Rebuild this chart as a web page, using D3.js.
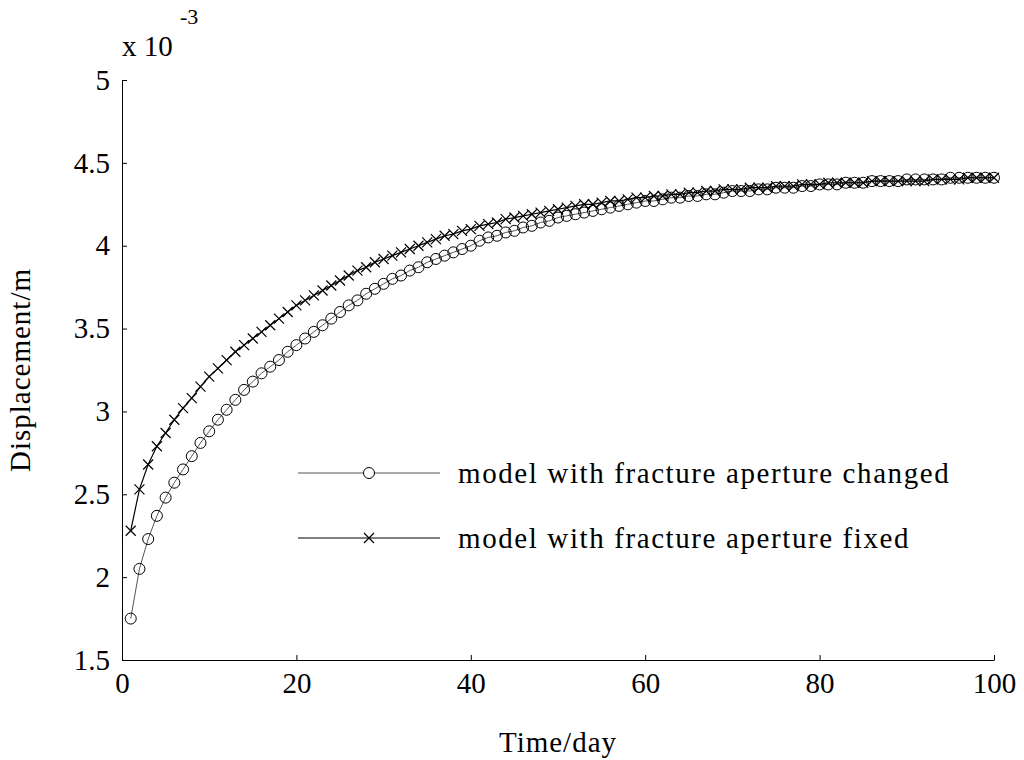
<!DOCTYPE html>
<meta charset="utf-8">
<style>
body { margin: 0; background: #fff; }
text { font-family: "Liberation Serif", "Times New Roman", serif; fill: #000; }
</style>
<body>
<script src="https://d3js.org/d3.v7.min.js"></script>
<script>

var width = 1024, height = 760;
var margin = {left: 122, right: 30, top: 80, bottom: 100};

var days = d3.range(1, 101);

var changed = [1.75,2.05,2.23,2.37,2.48,2.57,2.65,2.73,2.81,2.88,
  2.95,3.01,3.07,3.13,3.18,3.23,3.27,3.31,3.36,3.40,
  3.44,3.48,3.52,3.56,3.60,3.64,3.67,3.71,3.74,3.77,
  3.80,3.82,3.85,3.87,3.90,3.92,3.94,3.96,3.98,4.00,
  4.03,4.05,4.06,4.08,4.09,4.11,4.12,4.14,4.15,4.17,
  4.18,4.19,4.20,4.21,4.22,4.23,4.24,4.25,4.26,4.27,
  4.27,4.28,4.29,4.29,4.30,4.30,4.31,4.31,4.32,4.33,
  4.33,4.33,4.34,4.34,4.35,4.35,4.35,4.36,4.36,4.37,
  4.37,4.37,4.38,4.38,4.38,4.39,4.39,4.39,4.39,4.40,
  4.40,4.40,4.40,4.40,4.41,4.41,4.41,4.41,4.41,4.41];

var fixed = [2.28,2.53,2.68,2.79,2.87,2.95,3.02,3.08,3.15,3.21,
  3.26,3.31,3.36,3.40,3.44,3.48,3.52,3.56,3.60,3.64,
  3.67,3.70,3.73,3.76,3.79,3.82,3.85,3.87,3.90,3.92,
  3.94,3.96,3.98,4.00,4.02,4.04,4.06,4.07,4.09,4.10,
  4.12,4.13,4.14,4.16,4.17,4.18,4.19,4.20,4.21,4.22,
  4.23,4.24,4.25,4.25,4.26,4.27,4.27,4.28,4.29,4.29,
  4.30,4.30,4.31,4.31,4.32,4.32,4.33,4.33,4.34,4.34,
  4.34,4.35,4.35,4.35,4.36,4.36,4.36,4.37,4.37,4.37,
  4.38,4.38,4.38,4.38,4.38,4.39,4.39,4.39,4.39,4.39,
  4.39,4.39,4.40,4.40,4.40,4.40,4.41,4.41,4.41,4.41];

var xTicks = [0, 20, 40, 60, 80, 100];
var yTicks = [1.5, 2, 2.5, 3, 3.5, 4, 4.5, 5];
var legendLabels = ["model with fracture aperture changed", "model with fracture aperture fixed"];

var svg = d3.select("body").append("svg")
    .attr("width", width)
    .attr("height", height);

var x = d3.scaleLinear().domain([0, 100]).range([margin.left, width - margin.right]);
var y = d3.scaleLinear().domain([1.5, 5]).range([height - margin.bottom, margin.top]);

var fs = "29px";

svg.append("g")
    .attr("transform", "translate(0," + y(1.5) + ")")
    .call(d3.axisBottom(x).tickValues(xTicks).tickSizeInner(-5).tickSizeOuter(0).tickPadding(12))
    .call(g => g.selectAll("text").style("font-size", fs));

svg.append("g")
    .attr("transform", "translate(" + x(0) + ",0)")
    .call(d3.axisLeft(y).tickValues(yTicks).tickFormat(d3.format("")).tickSizeInner(-5).tickSizeOuter(0).tickPadding(12))
    .call(g => g.selectAll("text").style("font-size", fs));

svg.selectAll(".domain, .tick line").attr("stroke", "#000");

svg.append("text").attr("x", 122).attr("y", 56).style("font-size", fs).text("x 10");
svg.append("text").attr("x", 180).attr("y", 24).style("font-size", "22px").text("-3");

svg.append("text").attr("x", x(50)).attr("y", 752).attr("text-anchor", "middle")
    .style("font-size", fs).style("letter-spacing", "1px").text("Time/day");
svg.append("text").attr("transform", "translate(30," + y(3.25) + ") rotate(-90)")
    .attr("text-anchor", "middle").style("font-size", fs).style("letter-spacing", "1px").text("Displacement/m");

var line = d3.line().x((d, i) => x(days[i])).y(d => y(d));

svg.append("path").datum(changed).attr("d", line)
    .attr("fill", "none").attr("stroke", "#555").attr("stroke-width", 1);
svg.append("path").datum(fixed).attr("d", line)
    .attr("fill", "none").attr("stroke", "#000").attr("stroke-width", 1.2);

svg.selectAll(".c").data(changed).enter().append("circle")
    .attr("cx", (d, i) => x(days[i])).attr("cy", d => y(d)).attr("r", 5.5)
    .attr("fill", "none").attr("stroke", "#000").attr("stroke-width", 1);

function cross(g, cx, cy, s) {
  g.append("path")
    .attr("d", "M" + (cx - s) + "," + (cy - s) + "L" + (cx + s) + "," + (cy + s) +
               "M" + (cx - s) + "," + (cy + s) + "L" + (cx + s) + "," + (cy - s))
    .attr("stroke", "#000").attr("stroke-width", 1.2);
}
var cg = svg.append("g");
fixed.forEach((d, i) => cross(cg, x(days[i]), y(d), 5));

// legend
var lg = svg.append("g");
lg.append("line").attr("x1", 298).attr("x2", 440).attr("y1", 473).attr("y2", 473).attr("stroke", "#555");
lg.append("circle").attr("cx", 369).attr("cy", 473).attr("r", 5.5).attr("fill", "#fff").attr("stroke", "#000");
lg.append("text").attr("x", 458).attr("y", 483).style("font-size", fs).style("letter-spacing", "1.6px").text(legendLabels[0]);
lg.append("line").attr("x1", 298).attr("x2", 440).attr("y1", 538).attr("y2", 538).attr("stroke", "#000");
cross(lg, 369, 538, 5);
lg.append("text").attr("x", 458).attr("y", 548).style("font-size", fs).style("letter-spacing", "1.6px").text(legendLabels[1]);

</script>
